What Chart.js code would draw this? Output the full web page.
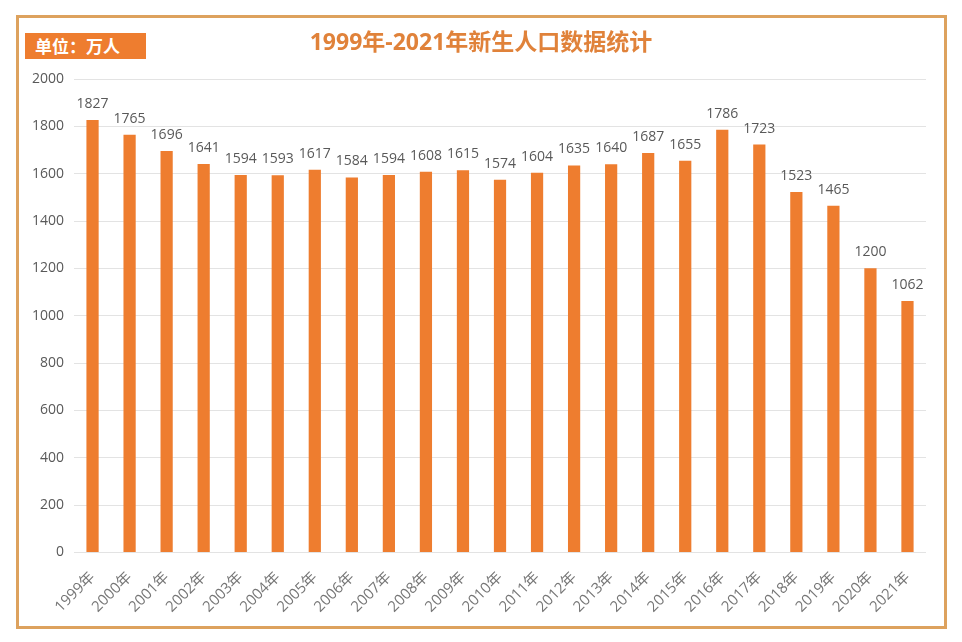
<!DOCTYPE html>
<html>
<head>
<meta charset="utf-8">
<script src="https://cdn.jsdelivr.net/npm/chart.js@4"></script>
<style>
html,body{margin:0;padding:0;background:#fff;}
#wrap{position:relative;width:962px;height:642px;}
#frame{position:absolute;left:16px;top:15px;width:925px;height:608px;border:3px solid #DDA25E;box-sizing:content-box;}
#unit{position:absolute;left:25px;top:33px;width:121px;height:26px;background:#EE7D2F;color:#fff;font:bold 17px "Noto Sans CJK SC",sans-serif;line-height:26px;padding-left:10px;box-sizing:border-box;}
#title{position:absolute;left:0;top:25px;width:962px;text-align:center;color:#E0823A;font:bold 23px "Open Sans","Noto Sans CJK SC",sans-serif;line-height:32px;}
canvas{position:absolute;left:0;top:0;}
</style>
</head>
<body>
<div id="wrap">
<div id="frame"></div>
<canvas id="c" width="962" height="642"></canvas>
<div id="unit">单位：万人</div>
<div id="title"></div>
</div>
<script>
const years = ['1999年','2000年','2001年','2002年','2003年','2004年','2005年','2006年','2007年','2008年','2009年','2010年','2011年','2012年','2013年','2014年','2015年','2016年','2017年','2018年','2019年','2020年','2021年'];
const births = [1827,1765,1696,1641,1594,1593,1617,1584,1594,1608,1615,1574,1604,1635,1640,1687,1655,1786,1723,1523,1465,1200,1062];
const titleText = '1999年-2021年新生人口数据统计';
const yTicks = {min:0, max:2000, step:200};

document.getElementById('title').textContent = titleText;

const valueLabels = {
  id:'valueLabels',
  afterDatasetsDraw(chart){
    const ctx = chart.ctx;
    const meta = chart.getDatasetMeta(0);
    ctx.save();
    ctx.font = '14px "Open Sans","Noto Sans CJK SC",sans-serif';
    ctx.fillStyle = '#595959';
    ctx.textAlign = 'center';
    ctx.textBaseline = 'alphabetic';
    meta.data.forEach((bar,i)=>{
      ctx.fillText(String(chart.data.datasets[0].data[i]), bar.x, bar.y - 12);
    });
    ctx.restore();
  }
};

new Chart(document.getElementById('c'), {
  type:'bar',
  data:{
    labels: years,
    datasets:[{data: births, backgroundColor:'#EE7D2F', borderWidth:0, barPercentage:0.33, categoryPercentage:1}]
  },
  options:{
    responsive:false,
    animation:false,
    layout:{padding:{left:22, right:36, top:79, bottom:18}},
    plugins:{
      legend:{display:false},
      tooltip:{enabled:false},
      title:{display:false}
    },
    scales:{
      x:{
        grid:{display:false},
        border:{display:false},
        ticks:{color:'#767676', padding:8, maxRotation:45, minRotation:45, autoSkip:false, font:{family:'"Open Sans","Noto Sans CJK SC",sans-serif', size:15}}
      },
      y:{
        min:yTicks.min, max:yTicks.max,
        grid:{color:'#e3e3e3', drawTicks:false},
        border:{display:false},
        ticks:{stepSize:yTicks.step, color:'#595959', padding:10, callback:v=>String(v), font:{family:'"Open Sans","Noto Sans CJK SC",sans-serif', size:14}}
      }
    }
  },
  plugins:[valueLabels]
});
</script>
</body>
</html>
